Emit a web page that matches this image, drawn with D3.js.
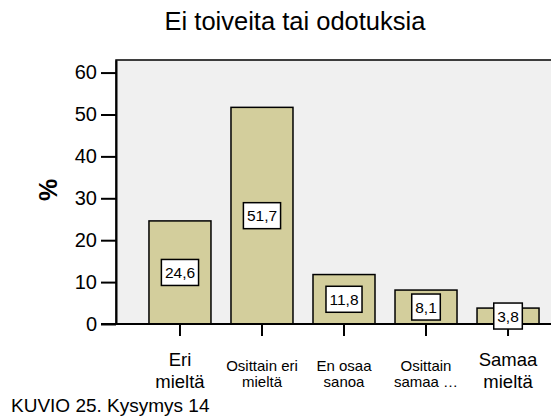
<!DOCTYPE html>
<html>
<head>
<meta charset="utf-8">
<script src="https://cdn.jsdelivr.net/npm/d3@7"></script>
<style>
  body { margin: 0; background: #fff; }
  svg { display: block; font-family: "Liberation Sans", Arial, sans-serif; }
</style>
</head>
<body>
<div class="canvas"></div>
<script>
// data
const categories = ["Eri mieltä", "Osittain eri mieltä", "En osaa sanoa", "Osittain samaa mieltä", "Samaa mieltä"];
const labelLines = [["Eri", "mieltä"], ["Osittain eri", "mieltä"], ["En osaa", "sanoa"], ["Osittain", "samaa …"], ["Samaa", "mieltä"]];
const values = [24.6, 51.7, 11.8, 8.1, 3.8];
const yTicks = [0, 10, 20, 30, 40, 50, 60];

// label font sizes (SPSS shrinks the long ones)
const labelSize = [18.5, 15, 15, 15, 18.5];

const dims = { width: 551, height: 417 };
const plot = { left: 116, right: 572, top: 60, bottom: 324 };

const svg = d3
    .select(".canvas")
    .append("svg")
    .attr("width", dims.width)
    .attr("height", dims.height);

const x = d3
    .scaleBand()
    .domain(categories)
    .range([plot.left, plot.right])
    .paddingInner(0.244)
    .paddingOuter(0.402);

const y = d3.scaleLinear().domain([0, 63]).range([plot.bottom, plot.top]);

// plot background + frame
svg.append("rect")
    .attr("x", plot.left)
    .attr("y", plot.top)
    .attr("width", plot.right - plot.left)
    .attr("height", plot.bottom - plot.top)
    .attr("fill", "#f0f0f0")
    .attr("stroke", "#000")
    .attr("stroke-width", 1.5);

// bars
svg.selectAll("rect.bar")
    .data(values)
    .enter()
    .append("rect")
    .attr("class", "bar")
    .attr("x", (d, i) => x(categories[i]))
    .attr("y", (d) => y(d))
    .attr("width", x.bandwidth())
    .attr("height", (d) => y(0) - y(d))
    .attr("fill", "#d3ce9c")
    .attr("stroke", "#000")
    .attr("stroke-width", 1.5);

// y axis
const yAxis = svg
    .append("g")
    .attr("transform", `translate(${plot.left},0)`)
    .call(d3.axisLeft(y).tickValues(yTicks).tickSize(15).tickPadding(4).tickSizeOuter(0));
yAxis.select(".domain").attr("stroke-width", 2);
yAxis.selectAll(".tick line").attr("stroke-width", 2);
yAxis.selectAll(".tick text")
    .attr("font-size", 20)
    .attr("fill", "#000")
    .attr("font-family", "Liberation Sans, Arial, sans-serif");

// x axis ticks
const xAxis = svg
    .append("g")
    .attr("transform", `translate(0,${plot.bottom})`)
    .call(d3.axisBottom(x).tickSize(12).tickFormat("").tickSizeOuter(0));
xAxis.select(".domain").remove();
xAxis.selectAll(".tick line").attr("stroke-width", 2);

svg.append("line")
    .attr("x1", plot.left - 15)
    .attr("x2", plot.right)
    .attr("y1", y(0))
    .attr("y2", y(0))
    .attr("stroke", "#000")
    .attr("stroke-width", 2);

// x labels, two lines each (separate texts so lines don't collide)
labelLines.forEach((lines, i) => {
    const big = labelSize[i] > 16;
    const cx = x(categories[i]) + x.bandwidth() / 2;
    lines.forEach((l, j) => {
        svg.append("text")
            .attr("x", cx)
            .attr("y", big ? 366 + j * 21.5 : 371 + j * 15.5)
            .attr("text-anchor", "middle")
            .attr("font-size", labelSize[i])
            .text(l);
    });
});

// value boxes
const boxes = svg
    .selectAll("g.val")
    .data(values)
    .enter()
    .append("g")
    .attr("class", "val")
    .attr("transform", (d, i) => `translate(${x(categories[i]) + x.bandwidth() / 2},${y(d / 2)})`);

boxes.append("text")
    .attr("text-anchor", "middle")
    .attr("dy", "0.36em")
    .attr("font-size", 15.5)
    .text((d) => d3.format(".1f")(d).replace(".", ","));

boxes.each(function () {
    const g = d3.select(this);
    const bb = g.select("text").node().getBBox();
    g.insert("rect", "text")
        .attr("x", bb.x - 3.5)
        .attr("y", -13)
        .attr("width", bb.width + 7)
        .attr("height", 26)
        .attr("fill", "#fff")
        .attr("stroke", "#000")
        .attr("stroke-width", 1.5);
});

// y title
svg.append("text")
    .attr("transform", `translate(57,190) rotate(-90)`)
    .attr("text-anchor", "middle")
    .attr("font-size", 25)
    .attr("font-weight", "bold")
    .text("%");

// title
svg.append("text")
    .attr("x", 295)
    .attr("y", 30)
    .attr("text-anchor", "middle")
    .attr("font-size", 25.5)
    .text("Ei toiveita tai odotuksia");

// caption
svg.append("text")
    .attr("x", 11)
    .attr("y", 412)
    .attr("font-size", 19)
    .text("KUVIO 25. Kysymys 14");
</script>
</body>
</html>
